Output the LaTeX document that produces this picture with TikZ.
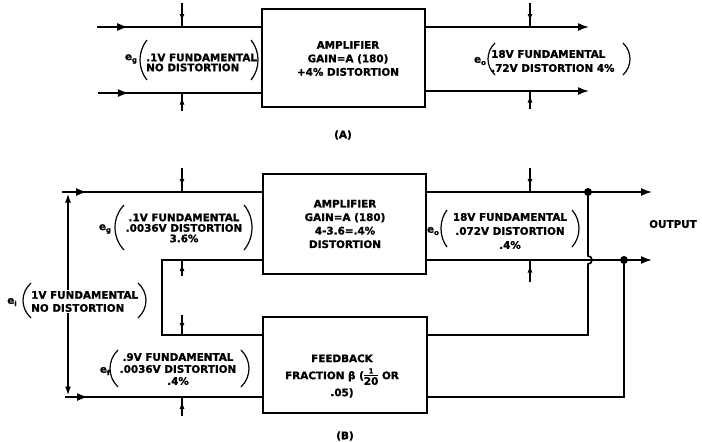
\documentclass[tikz,border=0pt]{standalone}
\usepackage{fontspec}
\setmainfont{DejaVu Sans}[BoldFeatures={FakeBold=1.2}]
\usetikzlibrary{arrows.meta,decorations.markings}
\newcommand\LblFont[1]{\bfseries\fontsize{10.4}{#1}\selectfont}
\newcommand\SubE[1]{e\raisebox{-2.2pt}{\fontsize{7}{7}\selectfont #1}}
\newcommand\FracOne{$\vcenter{\offinterlineskip\halign{\hfil##\hfil\cr{\fontsize{7}{7}\selectfont\bfseries 1}\cr\noalign{\kern1.5pt\hrule height0.6pt\kern1.5pt}\LblFont{12}20\cr}}$}
\newcommand\LPar[4]{\draw[paren] (#2,#3) .. controls ({#1-(#2-#1)/3},{#3+(#4-#3)*0.28}) and ({#1-(#2-#1)/3},{#4-(#4-#3)*0.28}) .. (#2,#4);}
\newcommand\RPar[4]{\draw[paren] (#1,#3) .. controls ({#2+(#2-#1)/3},{#3+(#4-#3)*0.28}) and ({#2+(#2-#1)/3},{#4-(#4-#3)*0.28}) .. (#1,#4);}
\begin{document}
\begin{tikzpicture}[x=1pt,y=-1pt,
  box/.style={draw, line width=2pt, inner sep=0pt},
  wire/.style={line width=1.7pt},
  tip/.style={-{Latex[length=11pt,width=8pt]}},
  midarrow/.style={postaction={decorate},decoration={markings,mark=at position #1 with {\arrow{Latex[length=11pt,width=8pt]}}}},
  meter/.style={line width=1.3pt, postaction={decorate}, decoration={markings, mark=at position 0.75 with {\arrow{Latex[length=7pt,width=5pt]}}}},
  paren/.style={line width=1.2pt},
  txt/.style={inner sep=0pt, font=\LblFont{13.5}},
  dot/.style={circle, fill, inner sep=0pt, minimum size=8pt}
]
\fill[white] (0,0) rectangle (702,442);
\path[use as bounding box] (0,0) rectangle (702,442);

% ---------------- (A) ----------------
\node[box, minimum width=163pt, minimum height=98pt] (ampA) at (343.5,58) {};
\node[txt, align=center] (ampAt) at (348,58.5) {AMPLIFIER\\GAIN=A (180)\\+4\% DISTORTION};

\coordinate (ai1) at (97,27);
\coordinate (ai2) at (98,93);
\coordinate (ao1) at (589,27);
\coordinate (ao2) at (589,91);
\draw[wire, midarrow=0.19] (ai1) -- (ai1 -| ampA.west);
\draw[wire, midarrow=0.19] (ai2) -- (ai2 -| ampA.west);
\draw[wire, tip] (ao1 -| ampA.east) -- (ao1);
\draw[wire, tip] (ao2 -| ampA.east) -- (ao2);

\coordinate (m1) at (182,3);
\coordinate (m2) at (182,111);
\coordinate (m3) at (530,3);
\coordinate (m4) at (530,109);
\draw[meter] (m1) -- (m1 |- ai1);
\draw[meter] (m2) -- (m2 |- ai2);
\draw[meter] (m3) -- (m3 |- ao1);
\draw[meter] (m4) -- (m4 |- ao2);

\node[txt] (egAs) at (131,59) {\SubE{g}};
\LPar{140}{147}{40}{80}
\RPar{251}{258}{40}{80}
\node[txt, anchor=west, align=left, font=\LblFont{10}] (egA) at (146,62.5) {.1V FUNDAMENTAL\\NO DISTORTION};

\node[txt] (eoAs) at (480,61) {\SubE{o}};
\LPar{488}{495}{43}{75}
\RPar{623}{630}{43}{75}
\node[txt, anchor=west, align=left, font=\LblFont{14}] (eoA) at (491,61) {18V FUNDAMENTAL\\.72V DISTORTION 4\%};

\node[txt] (capA) at (343,135) {(A)};

% ---------------- (B) ----------------
\node[box, minimum width=163pt, minimum height=100pt] (ampB) at (344.5,224) {};
\node[txt, align=center] (ampBt) at (345,224) {AMPLIFIER\\GAIN=A (180)\\4-3.6=.4\%\\DISTORTION};
\node[box, minimum width=164pt, minimum height=96pt] (fb) at (345,365) {};
\node[txt, align=center, font=\LblFont{17}] (fbt) at (342,376) {FEEDBACK\\FRACTION β (\FracOne{} OR\\.05)};

\coordinate (bi1) at (62,192);
\coordinate (bi2) at (65,397);
\coordinate (vt) at (68,193.5);
\coordinate (vb) at (68,395.5);
\draw[wire, midarrow=0.125] (bi1) -- (bi1 -| ampB.west);
\draw[wire, midarrow=0.117] (bi2) -- (bi2 -| fb.west);
\draw[wire, {Latex[length=9pt,width=6pt]}-{Latex[length=9pt,width=6pt]}] (vt) -- (vb);

\coordinate (lp1) at (162,335);
\coordinate (lp2) at (162,260);
\draw[wire] (lp1 -| fb.west) -- (lp1) -- (lp2) -- (lp2 -| ampB.west);

\coordinate (bo1) at (652,192);
\coordinate (bo2) at (652,260);
\draw[wire, tip] (bo1 -| ampB.east) -- (bo1);
\draw[wire, tip] (bo2 -| ampB.east) -- (bo2);

\coordinate (j1) at (588,192);
\coordinate (j2) at (624,260);
\coordinate (r1) at (588,335);
\coordinate (r2) at (624,397);
\coordinate (hop) at (588,260);
\draw[wire] (r1 -| fb.east) -- (r1) -- ([yshift=-4pt]hop) arc[start angle=-90, end angle=90, radius=4pt] -- (j1);
\draw[wire] (r2 -| fb.east) -- (r2) -- (j2);
\node[dot] (d1) at (j1) {};
\node[dot] (d2) at (j2) {};

\coordinate (n1) at (182,168);
\coordinate (n2) at (182,276);
\coordinate (n3) at (182,315);
\coordinate (n4) at (182,416);
\coordinate (n5) at (530,168);
\coordinate (n6) at (530,282);
\draw[meter] (n1) -- (n1 |- bi1);
\draw[meter] (n2) -- (n2 |- lp2);
\draw[meter] (n3) -- (n3 |- lp1);
\draw[meter] (n4) -- (n4 |- bi2);
\draw[meter] (n5) -- (n5 |- bo1);
\draw[meter] (n6) -- (n6 |- bo2);

\node[txt] (egBs) at (105,229) {\SubE{g}};
\LPar{115}{124}{205}{250}
\RPar{244}{252}{205}{250}
\node[txt, align=center, font=\LblFont{10.5}] (egB) at (184,228) {.1V FUNDAMENTAL\\.0036V DISTORTION\\3.6\%};

\node[txt] (eoBs) at (433,231) {\SubE{o}};
\LPar{441}{447}{210}{247}
\RPar{572}{579}{210}{247}
\node[txt, align=center, font=\LblFont{14}] (eoB) at (510,231) {18V FUNDAMENTAL\\.072V DISTORTION\\.4\%};

\node[txt] (outl) at (673,224) {OUTPUT};

\node[txt] (eis) at (12,302) {\SubE{i}};
\LPar{23}{31}{283}{318}
\RPar{138}{146}{283}{318}
\node[txt, anchor=west, align=left, font=\LblFont{13}, fill=white, inner sep=1pt] (ei) at (30,301.5) {1V FUNDAMENTAL\\NO DISTORTION};

\node[txt] (efs) at (105,371) {\SubE{f}};
\LPar{110}{118}{350}{387}
\RPar{241}{249}{350}{387}
\node[txt, align=center, font=\LblFont{12}] (ef) at (178,369) {.9V FUNDAMENTAL\\.0036V DISTORTION\\.4\%};

\node[txt] (capB) at (345,436) {(B)};
\end{tikzpicture}
\end{document}
